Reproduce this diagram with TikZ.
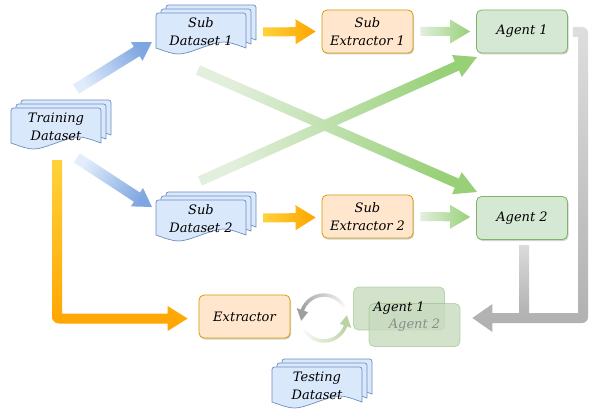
\documentclass[tikz,border=0pt]{standalone}
\usepackage{fontspec}
\setmainfont{DejaVu Serif}
\usetikzlibrary{calc,shadows}
\definecolor{docfill}{HTML}{DAE8FC}
\definecolor{docline}{HTML}{6C8EBF}
\definecolor{orfill}{HTML}{FFE6CC}
\definecolor{orline}{HTML}{D79B00}
\definecolor{agfill}{HTML}{D5E8D4}
\definecolor{agline}{HTML}{82B366}
\definecolor{ghfill}{HTML}{C7DBBF}
\definecolor{blueA}{HTML}{E2EDFC}
\definecolor{blueB}{HTML}{7EA6E0}
\definecolor{orA}{HTML}{FFD23A}
\definecolor{orB}{HTML}{FFA400}
\definecolor{grA}{HTML}{E3EFDD}
\definecolor{grB}{HTML}{97D077}
\definecolor{greyA}{HTML}{DADADA}
\definecolor{greyB}{HTML}{B0B0B0}
\definecolor{arcgreen}{HTML}{A3C585}
\newdimen\rsAx \newdimen\rsAy \newdimen\rsBx \newdimen\rsBy
% gradient block arrow: start, end, shaft half width, head half width, head length, start colour, end colour
\newcommand\garrow[7]{%
  \pgfextractx{\rsAx}{\pgfpointanchor{#1}{center}}%
  \pgfextracty{\rsAy}{\pgfpointanchor{#1}{center}}%
  \pgfextractx{\rsBx}{\pgfpointanchor{#2}{center}}%
  \pgfextracty{\rsBy}{\pgfpointanchor{#2}{center}}%
  \pgfmathsetmacro\rsang{atan2(\rsBy-\rsAy,\rsBx-\rsAx)-90}%
  \coordinate (rsH) at ($(#2)!#5!(#1)$);%
  \shade[top color=#7,bottom color=#6,shading angle=\rsang]
    ($(#1)!#3!90:(#2)$) -- ($(rsH)!#3!90:(#2)$) -- ($(rsH)!#4!90:(#2)$) -- (#2)
    -- ($(rsH)!#4!-90:(#2)$) -- ($(rsH)!#3!-90:(#2)$) -- ($(#1)!#3!-90:(#2)$) -- cycle;%
}
% stacked document shape around centre (cx,cy)
\newcommand\docshape[2]{%
  \foreach \k in {2,1,0}{%
    \filldraw[docsty] ({#1-45+5*\k},{#2+16-4*\k}) [rounded corners=2.5pt] -- ({#1-45+5*\k},{#2-19-4*\k})
      -- ({#1+45+5*\k},{#2-19-4*\k}) [sharp corners]
      -- ({#1+45+5*\k},{#2+16-4*\k})
      .. controls ({#1+22.5+5*\k},{#2+8-4*\k}) .. ({#1+5*\k},{#2+16-4*\k})
      .. controls ({#1-22.5+5*\k},{#2+24-4*\k}) .. ({#1-45+5*\k},{#2+16-4*\k}) -- cycle;
  }%
}
\tikzset{
  docsty/.style={fill=docfill, draw=docline, line width=0.7pt},
  doctext/.style={align=center, font=\fontsize{13}{18}\selectfont\itshape, minimum width=90pt, minimum height=38pt, inner sep=0pt},
  boxbase/.style={rounded corners=5pt, minimum width=91pt, minimum height=43pt, line width=0.8pt, align=center,
    inner sep=0pt, font=\fontsize{13}{18}\selectfont\itshape,
    drop shadow={shadow xshift=1pt, shadow yshift=-1.5pt, opacity=0.18, fill=black}},
  orbox/.style={boxbase, fill=orfill, draw=orline},
  agbox/.style={boxbase, fill=agfill, draw=agline},
  ghostbox/.style={rounded corners=5pt, minimum width=91pt, minimum height=43pt, line width=0.8pt,
    fill=ghfill, fill opacity=0.8, draw=agline, draw opacity=0.45},
  ghosttext/.style={font=\fontsize{13}{18}\selectfont\itshape, inner sep=0pt},
}
\begin{document}
\begin{tikzpicture}[x=1pt,y=-1pt]
\useasboundingbox (0,0) rectangle (594,412);
\fill[white] (0,0) rectangle (594,412);

% documents
\docshape{56}{127}
\node[doctext] (train) at (56,127) {Training\\Dataset};
\docshape{201}{32}
\node[doctext] (sub1) at (201,32) {Sub\\Dataset 1};
\docshape{201}{219}
\node[doctext] (sub2) at (201,219) {Sub\\Dataset 2};
\docshape{317}{386}
\node[doctext] (test) at (317,386) {Testing\\Dataset};

% boxes
\node[orbox] (ext1) at (367.5,31.5) {Sub\\Extractor 1};
\node[orbox] (ext2) at (367.5,216.5) {Sub\\Extractor 2};
\node[orbox] (ext) at (244.5,316.5) {Extractor};
\node[agbox] (ag1) at (522,31.5) {Agent 1};
\node[agbox] (ag2) at (522,218) {Agent 2};

% ghost agents
\node[ghostbox] (gh1) at (399,308.5) {};
\node[ghostbox] (gh2) at (414.5,325) {};
\node[ghosttext, text=black] (gh1t) at (gh1) {Agent 1};
\node[ghosttext, text=black!45] (gh2t) at (gh2) {Agent 2};

% arrow end points
\coordinate (b1s) at (76,89);   \coordinate (b1e) at (152,42);
\coordinate (b2s) at (77,158);  \coordinate (b2e) at (152,207);
\coordinate (o1s) at ($(sub1.east)+(17,0)$); \coordinate (o1e) at ($(ext1.west)+(-6,0)$);
\coordinate (o2s) at ($(sub2.east)+(17,-1)$); \coordinate (o2e) at ($(ext2.west)+(-6,1)$);
\coordinate (g1s) at ($(ext1.east)+(7,0)$); \coordinate (g1e) at ($(ag1.west)+(-6,0)$);
\coordinate (g2s) at ($(ext2.east)+(7,0)$); \coordinate (g2e) at ($(ag2.west)+(-6,-1)$);
\coordinate (x1s) at (198,70);  \coordinate (x1e) at (477,192);
\coordinate (x2s) at (200,181); \coordinate (x2e) at (477,57);

\garrow{b1s}{b1e}{5.5pt}{11pt}{18pt}{blueA}{blueB}
\garrow{b2s}{b2e}{5.5pt}{11pt}{18pt}{blueA}{blueB}
\garrow{o1s}{o1e}{4.5pt}{12.5pt}{20pt}{orA}{orB}
\garrow{o2s}{o2e}{4.5pt}{12.5pt}{20pt}{orA}{orB}
\garrow{g1s}{g1e}{4.5pt}{12pt}{20pt}{grA}{grB}
\garrow{g2s}{g2e}{4.5pt}{12pt}{20pt}{grA}{grB}
\garrow{x1s}{x1e}{5pt}{12pt}{22pt}{grA}{grB}
\garrow{x2s}{x2e}{5pt}{12pt}{22pt}{grA}{grB}

% orange L arrow: training dataset -> extractor
\coordinate (oL1) at (57,160);
\coordinate (oL2) at ($(ext.west)+(-11,2)$);
\shade[top color=orA, bottom color=orB]
  ($(oL1)+(-5,0)$) [rounded corners=7pt] -- ($(oL1|-oL2)+(-5,5)$) [sharp corners] -- ($(oL2)+(-20,5)$)
  -- ($(oL2)+(-20,12.5)$) -- (oL2) -- ($(oL2)+(-20,-12.5)$) -- ($(oL2)+(-20,-5)$)
  -- ($(oL1|-oL2)+(5,-5)$) -- ($(oL1)+(5,0)$) -- cycle;

% grey arrows: agents -> ghost agents
\coordinate (gy1) at ($(ag1.east)+(5,0.5)$);
\coordinate (gy2) at ($(ag2.south)+(2,6)$);
\coordinate (gyc) at (583,318);
\coordinate (gyt) at ($(gh2.east)+(12,-7)$);
\shade[top color=greyA, bottom color=greyB]
  ($(gy2)+(-5,0)$) -- ($(gy2)+(5,0)$) -- ($(gy2|-gyc)+(5,0)$) -- ($(gy2|-gyc)+(-5,0)$) -- cycle;
\shade[top color=greyA!90!white, bottom color=greyB]
  ($(gy1)+(0,-5)$) [rounded corners=6pt] -- ($(gyc|-gy1)+(5,-5)$) -- ($(gyc)+(5,5)$) [sharp corners]
  -- ($(gyt)+(20,5)$) -- ($(gyt)+(20,14)$) -- (gyt) -- ($(gyt)+(20,-14)$) -- ($(gyt)+(20,-5)$)
  -- ($(gyc)+(-5,-5)$) -- ($(gyc|-gy1)+(-5,5)$) -- ($(gy1)+(0,5)$) -- cycle;

% circular arrows
\def\ccx{324}\def\ccy{318}\def\ccr{23}
\foreach \i in {0,...,12}{
  \pgfmathsetmacro\aa{30+\i*10}
  \pgfmathsetmacro\pp{8+\i*5.5}
  \draw[line width=3.5pt, color=gray!\pp!white] ({\ccx+\ccr*cos(\aa)},{\ccy-\ccr*sin(\aa)})
    arc[start angle=-\aa, end angle=-\aa-10.5, radius=\ccr];
  \pgfmathsetmacro\bb{210+\i*10}
  \draw[line width=3.5pt, color=arcgreen!\pp!white] ({\ccx+\ccr*cos(\bb)},{\ccy-\ccr*sin(\bb)})
    arc[start angle=-\bb, end angle=-\bb-10.5, radius=\ccr];
}
\fill[gray!75!white] ({\ccx+(\ccr+6)*cos(160)},{\ccy-(\ccr+6)*sin(160)}) -- ({\ccx+\ccr*cos(187)},{\ccy-\ccr*sin(187)})
  -- ({\ccx+(\ccr-6)*cos(160)},{\ccy-(\ccr-6)*sin(160)}) -- cycle;
\fill[arcgreen!75!white] ({\ccx+(\ccr+6)*cos(340)},{\ccy-(\ccr+6)*sin(340)}) -- ({\ccx+\ccr*cos(7)},{\ccy-\ccr*sin(7)})
  -- ({\ccx+(\ccr-6)*cos(340)},{\ccy-(\ccr-6)*sin(340)}) -- cycle;
\end{tikzpicture}
\end{document}
